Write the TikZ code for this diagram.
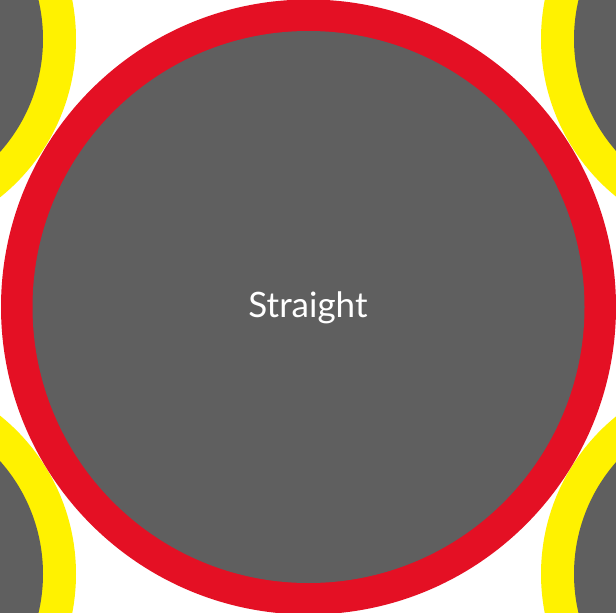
\documentclass[tikz,border=0pt]{standalone}
\usepackage{fontspec}
\setmainfont{Lato}
\definecolor{ringred}{RGB}{228,16,36}
\definecolor{ringyellow}{RGB}{255,242,0}
\definecolor{coregray}{RGB}{95,95,95}
\tikzset{
  ringouter/.style={fill=#1},
  corefill/.style={fill=coregray},
}
\begin{document}
\begin{tikzpicture}[x=1pt,y=-1pt]
\useasboundingbox (0,0) rectangle (616,613);
\clip (0,0) rectangle (616,613);
\fill[white] (0,0) rectangle (616,613);
% corner circles
\foreach \cx/\cy in {-127/39, 744/39, -127/574, 744/574}{
  \fill[ringouter=ringyellow] (\cx,\cy) circle[radius=203];
  \fill[corefill] (\cx,\cy) circle[radius=170];
}
% central circle
\fill[ringouter=ringred] (308.5,307) circle[radius=307.5];
\fill[corefill] (308.5,307) circle[radius=276];
\node[text=white, font=\fontsize{35}{42}\selectfont, inner sep=0pt, anchor=base] (label) at (308,317) {Straight};
\end{tikzpicture}
\end{document}
